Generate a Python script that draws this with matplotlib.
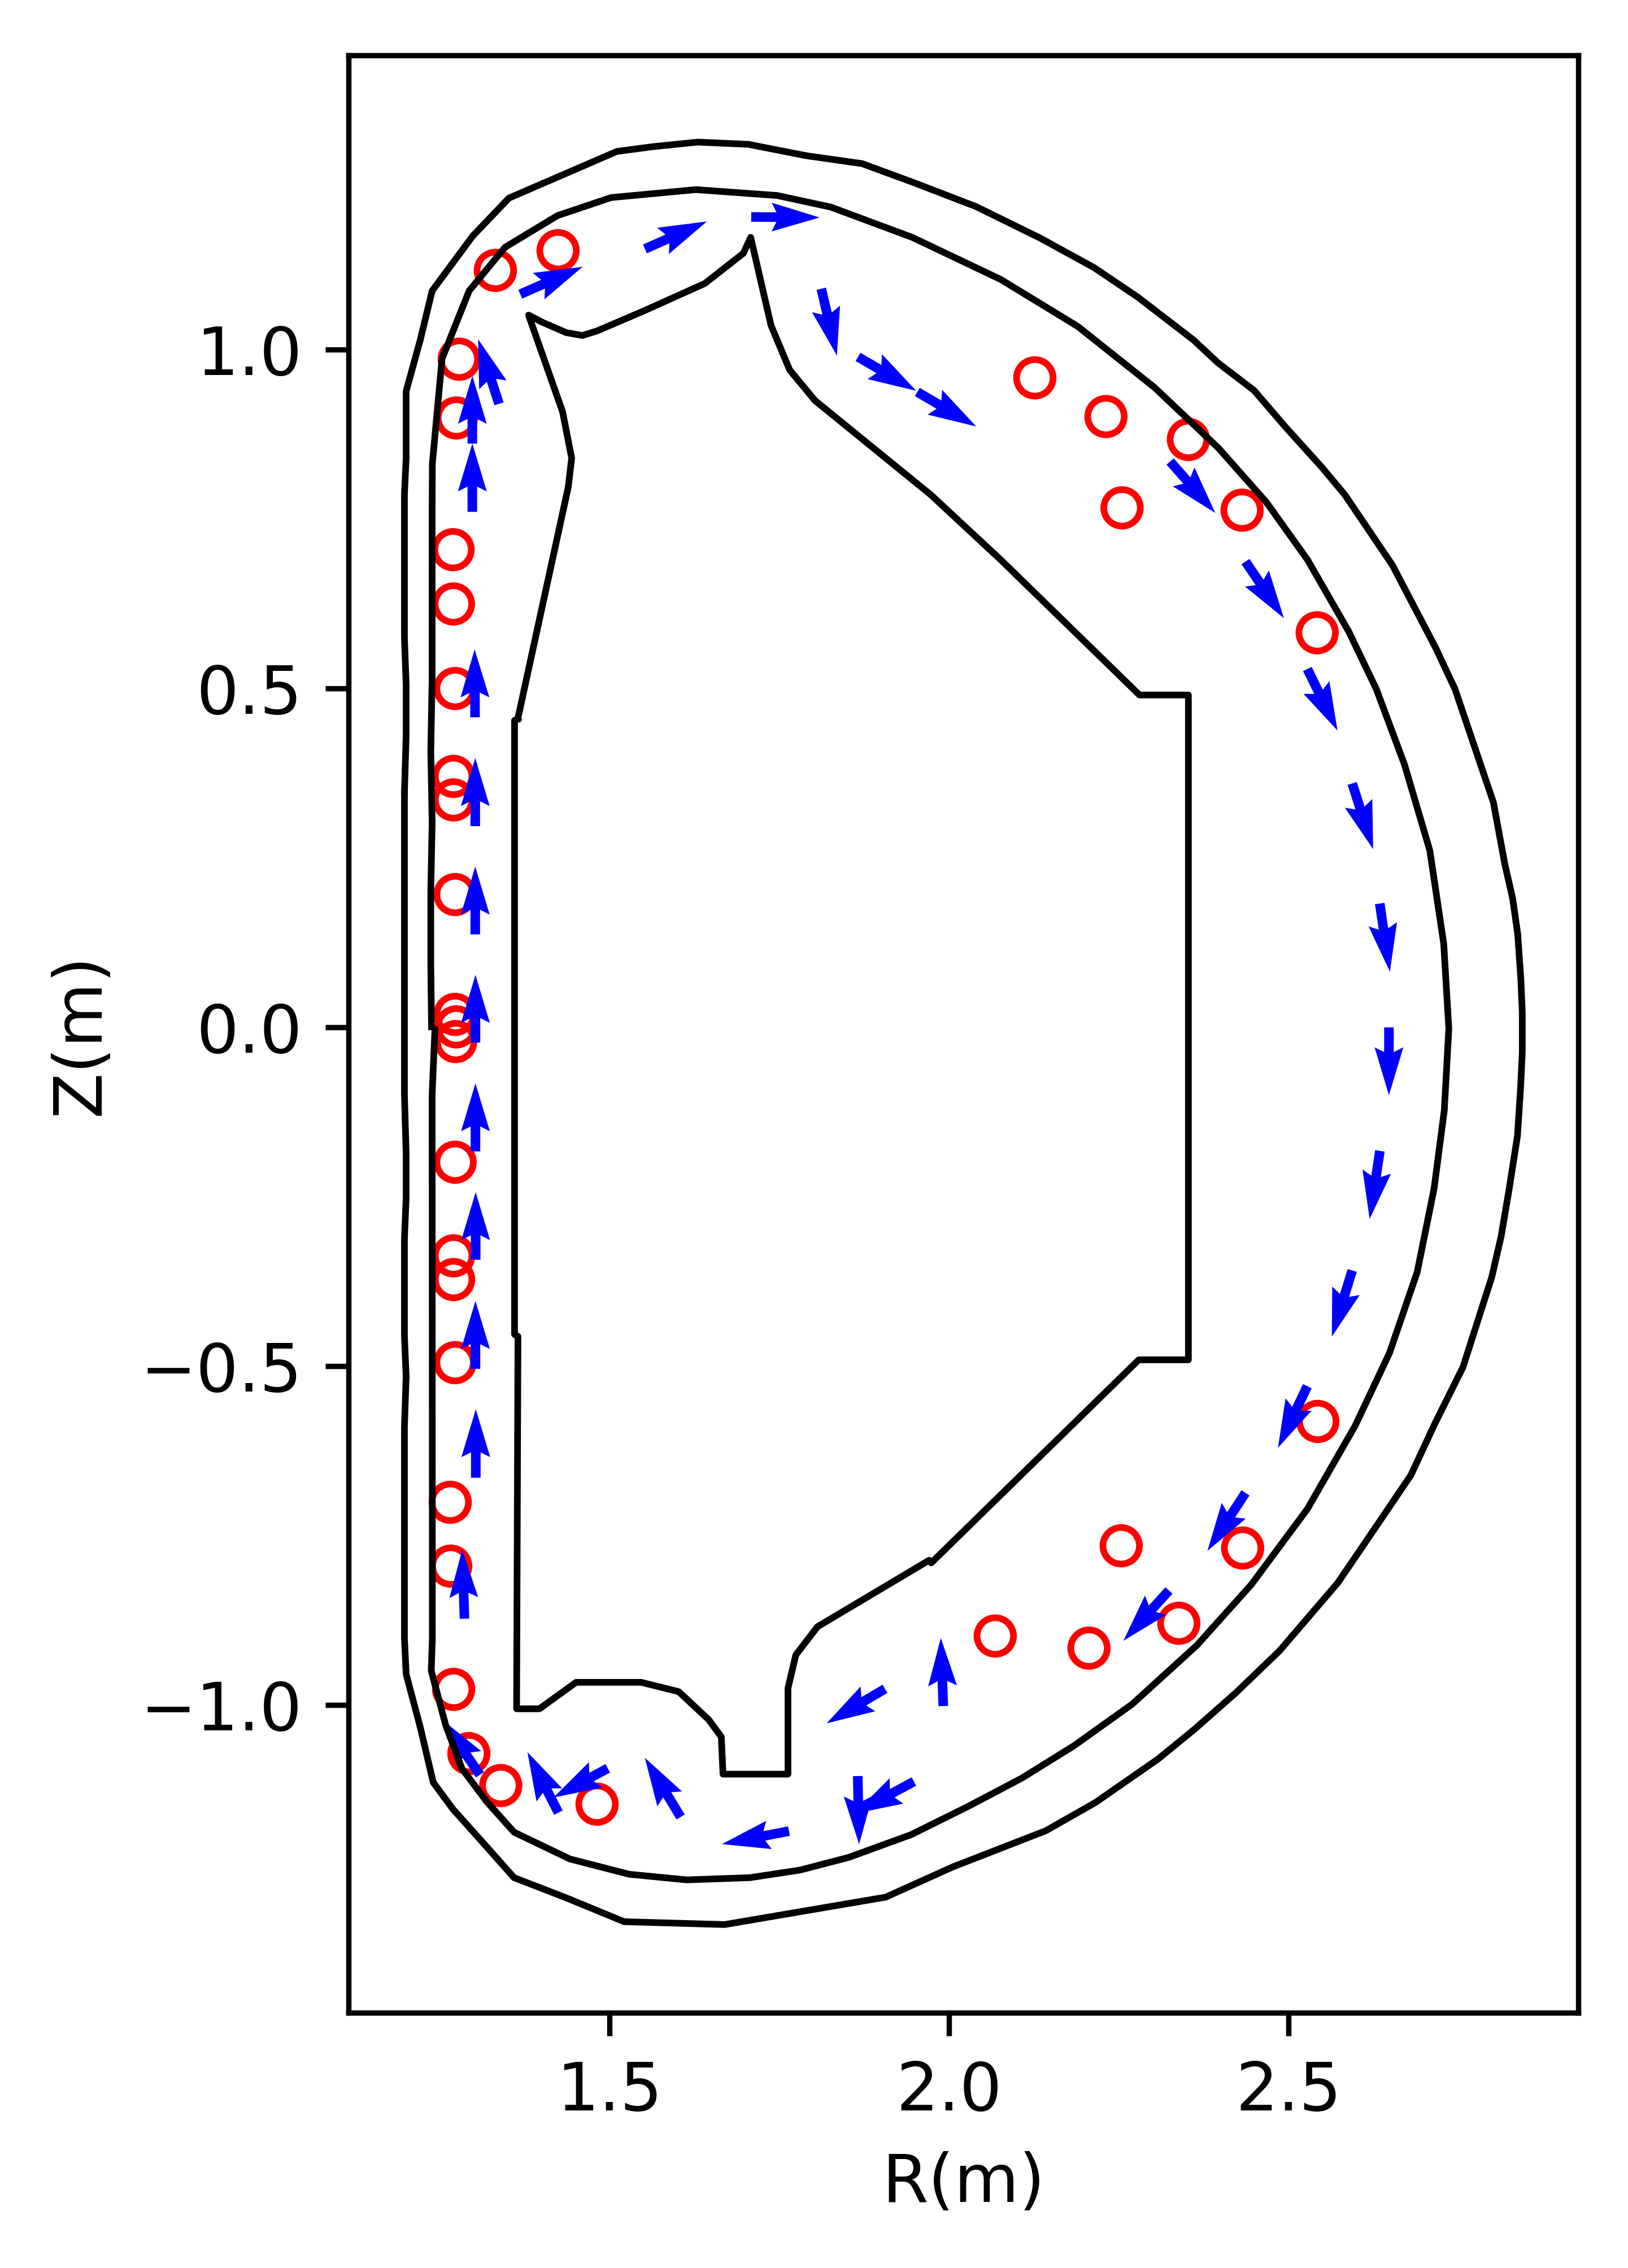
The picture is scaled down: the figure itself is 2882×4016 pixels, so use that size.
import matplotlib
matplotlib.use('Agg')
import matplotlib.pyplot as plt

# outer contour, clockwise from the left side
outer_r = [1.198, 1.2005, 1.2005, 1.198, 1.198, 1.2005, 1.2005, 1.2213, 1.2388, 1.2987,
           1.3519, 1.5108, 1.5641, 1.6298, 1.7047, 1.7895, 1.8719, 1.9501, 2.0399, 2.1348,
           2.2138, 2.2779, 2.3602, 2.3968, 2.4493, 2.4950, 2.5499, 2.5832, 2.6531, 2.7171,
           2.7454, 2.8020, 2.8186, 2.8303, 2.8378, 2.8424, 2.8445, 2.8445, 2.8420, 2.8374,
           2.8253, 2.8133, 2.7995, 2.7571, 2.7155, 2.6805, 2.6331, 2.6011, 2.5724, 2.4867,
           2.4226, 2.3623, 2.3083, 2.2159, 2.1427, 2.0058, 1.9068, 1.6697, 1.5216, 1.4368,
           1.3594, 1.3195, 1.2696, 1.2404, 1.2213, 1.2005, 1.198, 1.198, 1.198, 1.2005,
           1.198, 1.198, 1.2005, 1.2005, 1.198, 1.198]
outer_z = [0.3461, 0.4312, 0.5058, 0.5747, 0.7870, 0.8400, 0.9387, 1.0142, 1.0867, 1.1677,
           1.2235, 1.2923, 1.2994, 1.3061, 1.3028, 1.2861, 1.2744, 1.2456, 1.2110, 1.1643,
           1.1209, 1.0776, 1.0142, 0.9800, 0.9399, 0.8866, 0.8257, 0.7857, 0.6822, 0.5596,
           0.4992, 0.3319, 0.2419, 0.1902, 0.1376, 0.0709, 0.0225, -0.0367, -0.0892, -0.1601,
           -0.2377, -0.3086, -0.3686, -0.5013, -0.5851, -0.6605, -0.7306, -0.7778, -0.8199, -0.9200,
           -0.9817, -1.0350, -1.0792, -1.1435, -1.1852, -1.2385, -1.2832, -1.3236, -1.3194, -1.2844,
           -1.2544, -1.2093, -1.1535, -1.1138, -1.0325, -0.9541, -0.9016, -0.8657, -0.5888, -0.5146,
           -0.4559, -0.3119, -0.2510, -0.1872, -0.0992, 0.3461]

# inner contour, starts and ends near Z=0 on the left
inner_r = [1.2379, 1.2368, 1.2368, 1.2388, 1.2368, 1.2388, 1.2388, 1.2391, 1.2534, 1.2933,
           1.3461, 1.4235, 1.5025, 1.6273, 1.7471, 1.8261, 1.9459, 2.0765, 2.1897, 2.3028,
           2.3968, 2.4676, 2.5283, 2.5890, 2.6295, 2.6710, 2.7083, 2.7288, 2.7363, 2.7296,
           2.7146, 2.6897, 2.6489, 2.5982, 2.5279, 2.4451, 2.3652, 2.2701, 2.1839, 2.1073,
           2.0283, 1.9443, 1.8527, 1.7812, 1.7072, 1.6140, 1.5291, 1.4418, 1.3594, 1.3195,
           1.2826, 1.2587, 1.2375, 1.2391, 1.2388, 1.2429]
inner_z = [0.0008, 0.0934, 0.2002, 0.3036, 0.4074, 0.5163, 0.7665, 0.8315, 0.9866, 1.0867,
           1.1509, 1.1977, 1.2243, 1.2360, 1.2273, 1.2102, 1.1656, 1.1034, 1.0342, 0.9441,
           0.8549, 0.7748, 0.6897, 0.5838, 0.4992, 0.3878, 0.2611, 0.1234, -0.0017, -0.1226,
           -0.2377, -0.3611, -0.4804, -0.5880, -0.7106, -0.8224, -0.9116, -0.9983, -1.0600, -1.1076,
           -1.1493, -1.1910, -1.2244, -1.2431, -1.2544, -1.2577, -1.2494, -1.2269, -1.1873, -1.1426,
           -1.0934, -1.0292, -0.9491, -0.9016, -0.0992, -0.0030]

# first wall polygon
wall_r = [1.3650, 1.3602, 1.3602, 1.3652, 1.3632, 1.3968, 1.4509, 1.5466, 1.6020,
          1.6461, 1.6647, 1.6672, 1.7629, 1.7629, 1.7745, 1.8065, 1.9709, 1.9740, 2.2796,
          2.3527, 2.3527, 2.2807, 2.0765, 1.9734, 1.8026, 1.7654, 1.7379, 1.7080, 1.6972,
          1.6406, 1.5507, 1.4817, 1.4601, 1.4364, 1.4018, 1.3808, 1.4309, 1.4443, 1.4393,
          1.3650]
wall_z = [0.4554, 0.4529, -0.4529, -0.4559, -1.0053, -1.0053, -0.9662, -0.9662, -0.9800,
          -1.0213, -1.0467, -1.1017, -1.1017, -0.9750, -0.9258, -0.8841, -0.7861, -0.7900, -0.4904,
          -0.4904, 0.4904, 0.4904, 0.6897, 0.7857, 0.9249, 0.9700, 1.0359, 1.1656, 1.1421,
          1.0976, 1.0571, 1.0275, 1.0208, 1.0250, 1.0400, 1.0509, 0.9083, 0.8399, 0.7973,
          0.4554]

# probe positions (red circles)
probe_r = [1.3319, 1.4243, 1.2787, 1.2745, 1.2696, 1.2701, 1.2726, 1.2704, 1.2704, 1.2726,
           1.2726, 1.2743, 1.2735, 1.2726, 1.2704, 1.2704, 1.2726, 1.2654, 1.2662, 1.2704,
           1.2929, 1.3399, 1.4817, 2.0682, 2.2063, 2.3386, 2.2537, 2.4326, 2.5433, 2.1265,
           2.2313, 2.3527, 2.2550, 2.4318, 2.5424]
probe_z = [1.1168, 1.1459, 0.9858, 0.8991, 0.7048, 0.6247, 0.5000, 0.3703, 0.3356, 0.1960,
           0.0192, 0.0008, -0.0209, -0.1989, -0.3370, -0.3720, -0.4946, -0.7006, -0.7948, -0.9766,
           -1.0714, -1.1185, -1.1460, -0.8979, -0.9158, -0.8791, -0.7648, -0.7681, -0.5813, 0.9583,
           0.9012, 0.8674, 0.7665, 0.7631, 0.5822]

# field direction arrows
arrow_r = [1.3686, 1.5522, 1.7088, 1.8120, 1.8661, 1.9534, 2.3258, 2.4368, 2.5279, 2.5940,
           2.6345, 2.6481, 2.6348, 2.5940, 2.5279, 2.4368, 2.3241, 1.9917, 1.9058, 1.9484,
           1.8657, 1.7644, 1.6048, 1.4975, 1.4248, 1.3092, 1.2864, 1.3031, 1.3026, 1.3029,
           1.3026, 1.3026, 1.3023, 1.3023, 1.3020, 1.2980, 1.2980, 1.3373]
arrow_z = [1.0817, 1.1485, 1.1957, 1.0898, 0.9892, 0.9375, 0.8349, 0.6872, 0.5288, 0.3599,
           0.1827, 0.0000, -0.1822, -0.3586, -0.5293, -0.6867, -0.8307, -1.0012, -0.9758, -1.1126,
           -1.1045, -1.1857, -1.1649, -1.0931, -1.1585, -1.1026, -0.8724, -0.6644, -0.5038, -0.3428,
           -0.1830, -0.0224, 0.1372, 0.2969, 0.4575, 0.7606, 0.8613, 0.9199]
arrow_u = [0.0918, 0.0913, 0.1007, 0.0230, 0.0857, 0.0868, 0.0665, 0.0566, 0.0445, 0.0308,
           0.0150, 0.0000, -0.0152, -0.0300, -0.0433, -0.0560, -0.0671, -0.0037, -0.0859, -0.0879,
           0.0020, -0.0988, -0.0527, -0.0799, -0.0456, -0.0557, -0.0033, 0.0000, 0.0000, 0.0000,
           0.0000, 0.0000, 0.0000, 0.0000, -0.0006, 0.0000, 0.0000, -0.0308]
arrow_v = [0.0404, 0.0405, -0.0008, -0.0987, -0.0500, -0.0509, -0.0759, -0.0834, -0.0909, -0.0968,
           -0.1005, -0.1001, -0.1005, -0.0976, -0.0909, -0.0856, -0.0742, 0.1004, -0.0509, -0.0475,
           -0.1005, -0.0192, 0.0873, -0.0431, 0.0892, 0.0813, 0.1018, 0.1011, 0.1001, 0.0997,
           0.1005, 0.0998, 0.1000, 0.1004, 0.1001, 0.1009, 0.1000, 0.0954]

x_ticks = [1.5, 2.0, 2.5]
y_ticks = [-1.0, -0.5, 0.0, 0.5, 1.0]

W, H = 2882, 4016
fig = plt.figure(figsize=(W / 850, H / 850), dpi=850)
ax = fig.add_axes([617.3 / W, 1 - 3564 / H, (2794 - 617.3) / W, (3564 - 98) / H])

ax.scatter(probe_r, probe_z, s=30, facecolors='none', edgecolors='r', linewidths=1)
ax.quiver(arrow_r, arrow_z, arrow_u, arrow_v, color='b', angles='xy', scale_units='xy', scale=1,
          width=0.0078)
ax.plot(outer_r, outer_z, 'k', lw=1)
ax.plot(inner_r, inner_z, 'k', lw=1)
ax.plot(wall_r, wall_z, 'k', lw=1)

ax.set_xlim(1.1159, 2.927)
ax.set_ylim(-1.4537, 1.4341)
ax.set_xticks(x_ticks)
ax.set_yticks(y_ticks)
ax.set_xlabel('R(m)')
ax.set_ylabel('Z(m)')

fig.savefig('out.png', dpi=850)
